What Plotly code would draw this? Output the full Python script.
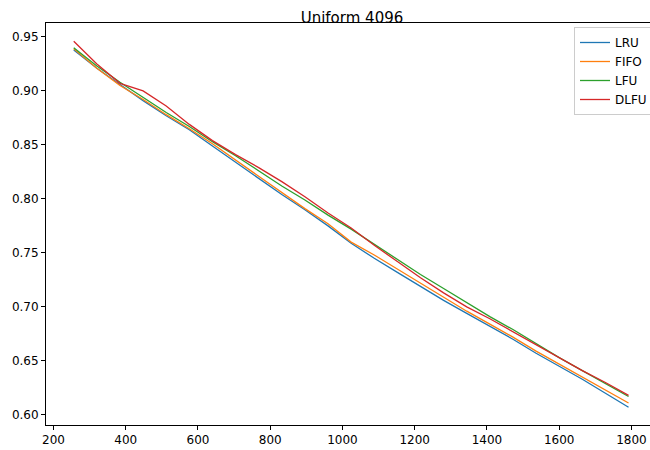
import plotly.graph_objects as go

cache_sizes = [256, 320, 384, 448, 512, 576, 640, 704, 768, 832, 896, 960, 1024,
               1088, 1152, 1216, 1280, 1344, 1408, 1472, 1536, 1600, 1664, 1728, 1792]

lru = [0.938, 0.921, 0.906, 0.891, 0.877, 0.864, 0.849, 0.834, 0.819, 0.804, 0.790, 0.775, 0.759,
       0.745, 0.732, 0.719, 0.706, 0.694, 0.682, 0.670, 0.657, 0.645, 0.633, 0.620, 0.607]
fifo = [0.939, 0.921, 0.905, 0.892, 0.878, 0.865, 0.851, 0.836, 0.821, 0.806, 0.791, 0.777, 0.760,
        0.748, 0.735, 0.722, 0.709, 0.696, 0.684, 0.672, 0.659, 0.647, 0.635, 0.623, 0.611]
lfu = [0.940, 0.923, 0.908, 0.894, 0.880, 0.867, 0.853, 0.840, 0.826, 0.812, 0.799, 0.785, 0.772,
       0.758, 0.744, 0.730, 0.717, 0.704, 0.691, 0.679, 0.666, 0.653, 0.641, 0.629, 0.617]
dlfu = [0.946, 0.925, 0.907, 0.900, 0.886, 0.869, 0.854, 0.841, 0.829, 0.816, 0.802, 0.787, 0.773,
        0.757, 0.742, 0.727, 0.713, 0.700, 0.689, 0.677, 0.665, 0.653, 0.641, 0.630, 0.618]

series = [("LRU", lru, "#1f77b4"), ("FIFO", fifo, "#ff7f0e"),
          ("LFU", lfu, "#2ca02c"), ("DLFU", dlfu, "#d62728")]

fig = go.Figure()
for name, vals, color in series:
    fig.add_trace(go.Scatter(x=cache_sizes, y=vals, mode="lines", name=name,
                             line=dict(color=color, width=1.3)))

font_family = "DejaVu Sans"
fig.update_layout(
    width=650, height=450,
    margin=dict(l=46, r=0, t=23, b=25, pad=0, autoexpand=False),
    paper_bgcolor="white", plot_bgcolor="white",
    font=dict(family=font_family, size=12, color="black"),
    title=dict(text="Uniform 4096", font=dict(size=15, family=font_family, color="black"),
               xref="paper", x=0.5066, xanchor="center",
               yref="paper", y=1, yanchor="bottom", pad=dict(b=0, t=0)),
    showlegend=True,
    legend=dict(x=(574 - 46) / 604, xanchor="left", y=1 - (27 - 23) / 402, yanchor="top",
                bgcolor="rgba(255,255,255,0.8)", bordercolor="#cccccc", borderwidth=1,
                font=dict(size=12, family=font_family, color="black"),
                tracegroupgap=0, entrywidth=60, entrywidthmode="pixels"),
    xaxis=dict(range=[179.2, 1851.4], showgrid=False, zeroline=False,
               showline=True, linecolor="black", linewidth=1, mirror=True,
               ticks="outside", ticklen=4, tickwidth=1, tickcolor="black",
               tickvals=[200, 400, 600, 800, 1000, 1200, 1400, 1600, 1800],
               tickfont=dict(size=12)),
    yaxis=dict(range=[0.5906, 0.9629], showgrid=False, zeroline=False,
               showline=True, linecolor="black", linewidth=1,
               ticks="outside", ticklen=4, tickwidth=1, tickcolor="black",
               tickvals=[0.60, 0.65, 0.70, 0.75, 0.80, 0.85, 0.90, 0.95],
               tickformat=".2f", tickfont=dict(size=12)),
)

fig.write_html("out.html")
